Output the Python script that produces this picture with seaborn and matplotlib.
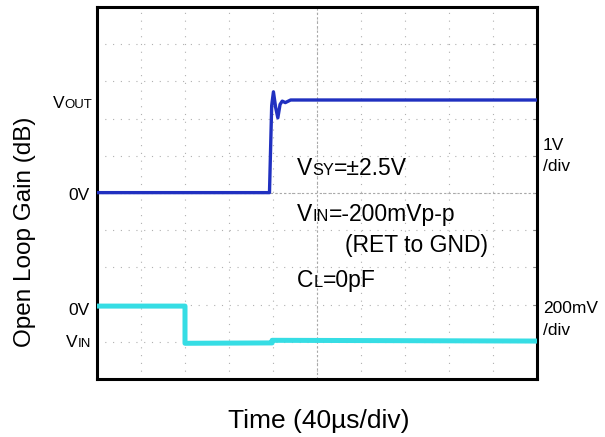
import matplotlib
matplotlib.use("Agg")
import matplotlib.pyplot as plt
import seaborn as sns
import pandas as pd

# ---- data (in screen divisions: x 0..10, y 0..10 from bottom) ----
vout_time = [0.0, 3.92, 3.97, 4.01, 4.06, 4.11, 4.16, 4.21, 4.28, 4.40, 10.0]
vout_level = [5.01, 5.01, 7.35, 7.72, 7.30, 7.02, 7.38, 7.47, 7.43, 7.50, 7.50]
vin_time = [0.0, 2.0, 2.0, 3.98, 3.98, 10.0]
vin_level = [1.96, 1.96, 0.96, 0.97, 1.04, 1.02]

x_label = "Time (40µs/div)"
y_label = "Open Loop Gain (dB)"
scale_top = ["1V", "/div"]
scale_bottom = ["200mV", "/div"]

W, H = 605, 437
sns.set_style("white")
plt.rcParams["font.family"] = ["Liberation Sans", "DejaVu Sans"]
plt.rcParams["text.color"] = "black"

fig = plt.figure(figsize=(W / 100, H / 100), dpi=100)
ax = fig.add_axes([97 / W, 1 - 379 / H, 440 / W, 372 / H])

df_out = pd.DataFrame({"t": vout_time, "v": vout_level})
df_in = pd.DataFrame({"t": vin_time, "v": vin_level})
sns.lineplot(data=df_out, x="t", y="v", sort=False, estimator=None,
             color="#2030c0", lw=2.4, ax=ax, zorder=5)
sns.lineplot(data=df_in, x="t", y="v", sort=False, estimator=None,
             color="#36dde4", lw=3.6, ax=ax, zorder=5)

ax.set_xlim(0, 10)
ax.set_ylim(0, 10)
ax.set_xticks(range(11))
ax.set_yticks(range(11))
ax.set_xticklabels([])
ax.set_yticklabels([])
ax.set_xlabel("")
ax.set_ylabel("")
ax.tick_params(left=False, bottom=False, top=False, right=True,
               direction="in", length=3, width=0.8, colors="#888888",
               labelright=False)
ax.grid(True, color="#b0b0b0", lw=0.8, linestyle=(0, (1, 6)))
ax.axhline(5, color="#a8a8a8", lw=0.8, linestyle=(0, (2, 2)), zorder=1)
ax.axvline(5, color="#a8a8a8", lw=0.8, linestyle=(0, (2, 2)), zorder=1)
for s in ax.spines.values():
    s.set_color("black")
    s.set_linewidth(2.2)
    s.set_visible(True)

r = fig.canvas.get_renderer()


def mixed(x, y, parts, ha="left"):
    ts, ws = [], []
    for s, fs in parts:
        t = fig.text(0, 0, s, fontsize=fs, va="baseline", ha="left", color="black")
        ws.append(t.get_window_extent(r).width)
        ts.append(t)
    x0 = x - sum(ws) if ha == "right" else x
    for t, w in zip(ts, ws):
        t.set_position((x0 / W, 1 - y / H))
        x0 += w


BIG, SMALL = 16.5, 11.8
mixed(297, 175, [("V", BIG), ("SY", SMALL), ("=±2.5V", BIG)])
mixed(297, 221, [("V", BIG), ("IN", SMALL), ("=-200mVp-p", BIG)])
mixed(345, 252, [("(RET to GND)", BIG)])
mixed(297, 287, [("C", BIG), ("L", SMALL), ("=0pF", BIG)])

LB, LS = 12.5, 9.5
mixed(92, 108, [("V", LB), ("OUT", LS)], ha="right")
mixed(90, 200, [("0V", LB)], ha="right")
mixed(90, 315, [("0V", LB)], ha="right")
mixed(91, 347, [("V", LB), ("IN", LS)], ha="right")

RS = 12.5
mixed(543, 150, [(scale_top[0], RS)])
mixed(543, 171, [(scale_top[1], RS)])
mixed(543, 313, [(scale_bottom[0], RS)])
mixed(543, 335, [(scale_bottom[1], RS)])

fig.text(319 / W, 1 - 428 / H, x_label, fontsize=19, ha="center", va="baseline")
fig.text(25 / W, 1 - 232 / H, y_label, fontsize=17.5, rotation=90,
         ha="center", va="center")

fig.savefig("out.png", dpi=100)
